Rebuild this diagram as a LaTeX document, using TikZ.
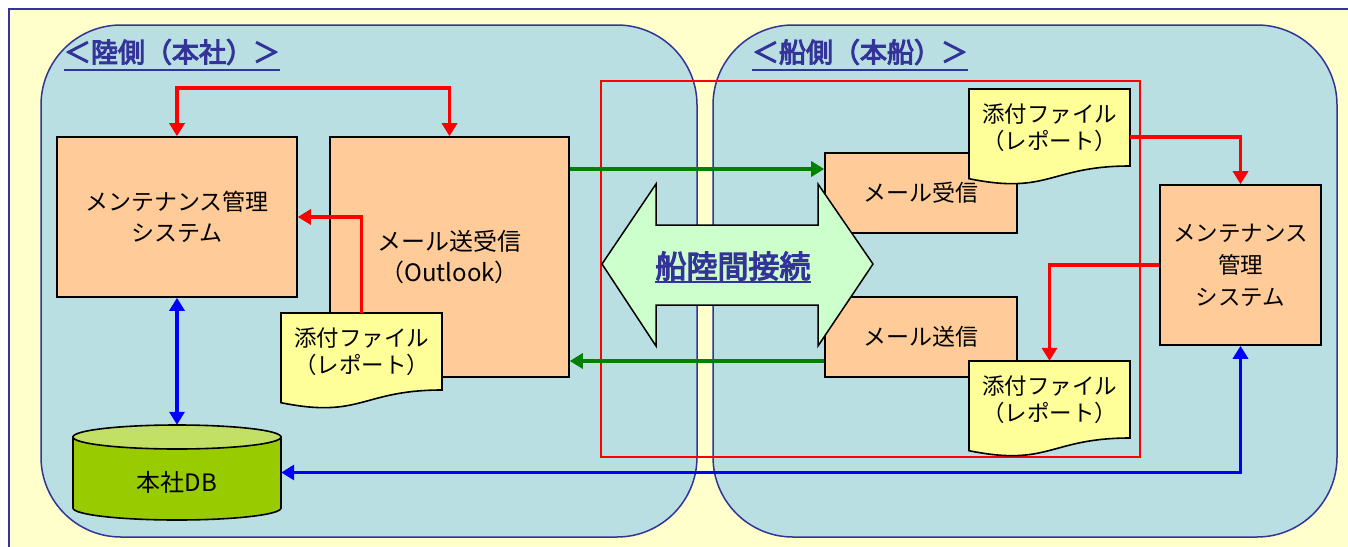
\documentclass[tikz,border=0pt]{standalone}
\usepackage{fontspec}
\setmainfont{Noto Sans CJK JP}
\newfontfamily\boldcjk[FakeBold=4]{Noto Sans CJK JP}
\usetikzlibrary{arrows.meta,calc}
\definecolor{bgY}{HTML}{FFFFCC}
\definecolor{frameB}{HTML}{333399}
\definecolor{regionC}{HTML}{B9DFE3}
\definecolor{orangeF}{HTML}{FFCC99}
\definecolor{docF}{HTML}{FFFF99}
\definecolor{dbSide}{HTML}{99CC00}
\definecolor{dbTop}{HTML}{C2E066}
\definecolor{linkF}{HTML}{CCFFCC}
\definecolor{redC}{HTML}{FF0000}
\definecolor{greenC}{HTML}{008000}
\definecolor{blueC}{HTML}{0000FF}
\tikzset{
  >={Triangle[length=13pt,width=15pt]},
  region/.style={fill=regionC, draw=frameB, line width=1.5pt, rounded corners=80pt},
  obox/.style={draw=black, line width=1.6pt, fill=orangeF, align=center, inner sep=0pt,
    font=\fontsize{23}{31}\selectfont},
  docshape/.style={draw=black, line width=1.6pt, fill=docF},
  docnode/.style={inner sep=0pt, minimum width=161pt, minimum height=96pt},
  doctext/.style={align=center, inner sep=0pt, font=\fontsize{22.5}{27}\selectfont},
  titletext/.style={text=frameB, inner sep=0pt, font=\fontsize{27}{30}\selectfont\boldcjk},
  uline/.style={draw=frameB, line width=1.5pt},
  rline/.style={draw=redC, line width=3.5pt},
  gline/.style={draw=greenC, line width=3.5pt},
  bline/.style={draw=blueC, line width=3.5pt},
}
\newcommand\docbox[4]{%
  \filldraw[docshape] (#2,#3) -- (#2+161,#3) -- (#2+161,#3+77)
     .. controls (#2+80.5,#3+77) and (#2+80.5,#3+106) .. (#2,#3+89.7) -- cycle;
  \node[docnode] (#1) at (#2+80.5,#3+48) {};
  \node[doctext] (#1-t) at (#2+80.5,#3+38.5) {#4};
}
\begin{document}
\begin{tikzpicture}[x=1pt,y=-1pt]
\useasboundingbox (0,0) rectangle (1348,546);
% background frame
\filldraw[fill=bgY, draw=frameB, line width=1.5pt] (9,9) rectangle (1370,570);
% regions
\filldraw[region] (41,25) rectangle (697,537);
\filldraw[region] (713,25) rectangle (1337,537);
% titles
\node[titletext] (landT) at (172,52) {＜陸側（本社）＞};
\draw[uline] ($(landT.west)+(0,18)$) -- ($(landT.east)+(0,18)$);
\node[titletext] (shipT) at (860,52) {＜船側（本船）＞};
\draw[uline] ($(shipT.west)+(0,18)$) -- ($(shipT.east)+(0,18)$);
% red frame
\draw[redC, line width=2pt] (601,81) rectangle (1140,457);
% boxes
\node[obox, minimum width=240pt, minimum height=160pt] (maint) at (177,217) {メンテナンス管理\\システム};
\node[obox, minimum width=239pt, minimum height=240pt, font=\fontsize{24}{31}\selectfont] (mail) at (449.5,257) {メール送受信\\（Outlook）};
\node[obox, minimum width=192pt, minimum height=80pt] (recv) at (921,193) {メール受信};
\node[obox, minimum width=192pt, minimum height=80pt] (send) at (921,337) {メール送信};
\node[obox, minimum width=161pt, minimum height=160pt, font=\fontsize{22.5}{32}\selectfont] (rmaint) at (1240.5,265) {メンテナンス\\管理\\システム};
% database
\filldraw[fill=dbSide, draw=black, line width=1.6pt] (73,437) -- (73,508)
   arc[start angle=180, end angle=0, x radius=104, y radius=12] -- (281,437) -- cycle;
\filldraw[fill=dbTop, draw=black, line width=1.6pt] (177,437) ellipse [x radius=104, y radius=12];
\node[inner sep=0pt, minimum width=208pt, minimum height=95pt] (db) at (177,472.5) {};
\node[inner sep=0pt, font=\fontsize{24}{26}\selectfont] (db-t) at (177,482) {本社DB};
% documents
\docbox{doc1}{281}{313}{添付ファイル\\（レポート）}
\draw[rline, ->] (doc1.north) |- (maint.east);
\docbox{doc2}{969}{89}{添付ファイル\\（レポート）}
\docbox{doc3}{969}{361}{添付ファイル\\（レポート）}
% connectors
\draw[rline, <->] (maint.north) -- ++(0,-48) -| (mail.north);
\draw[rline, ->] (doc2.east) -| (rmaint.north);
\draw[rline, ->] (rmaint.west) -| (doc3.north);
\coordinate (g1) at ($(recv.west)+(0,-24)$);
\coordinate (g2) at ($(send.west)+(0,24)$);
\draw[gline, ->] (mail.east |- g1) -- (g1);
\draw[gline, ->] (g2) -- (mail.east |- g2);
\draw[bline, <->] (maint.south) -- (db.north);
\draw[bline, <->] (db.east) -| (rmaint.south);
% link arrow
\filldraw[fill=linkF, draw=black, line width=1.5pt] (602,264) -- (656,184) -- (656,225) -- (818,225)
  -- (818,184) -- (873,264) -- (818,346) -- (818,305) -- (656,305) -- (656,346) -- cycle;
\node[text=frameB, inner sep=0pt, font=\fontsize{31}{34}\selectfont\boldcjk] (link) at (733,266) {船陸間接続};
\draw[uline] ($(link.west)+(0,16)$) -- ($(link.east)+(0,16)$);
\end{tikzpicture}
\end{document}
